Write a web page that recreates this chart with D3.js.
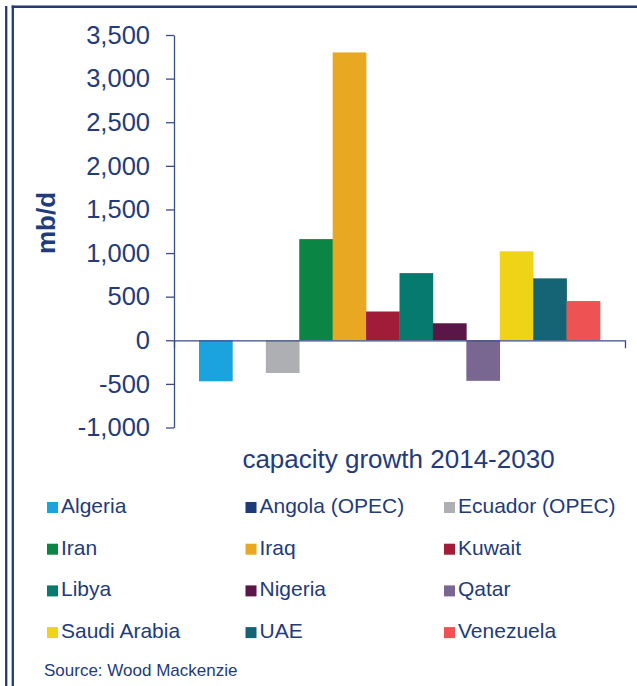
<!DOCTYPE html>
<html>
<head>
<meta charset="utf-8">
<script src="https://cdn.jsdelivr.net/npm/d3@7"></script>
<style>
  body { margin: 0; background: #fff; }
  text { font-family: "Liberation Sans", Arial, sans-serif; fill: #233b7a; }
  .axis path, .axis line { stroke: #3b4b86; stroke-width: 1.3; }
</style>
</head>
<body>
<div id="chart-area"></div>
<script>
const categories = ["capacity growth 2014-2030"];
const countries = ["Algeria", "Angola (OPEC)", "Ecuador (OPEC)", "Iran", "Iraq", "Kuwait",
  "Libya", "Nigeria", "Qatar", "Saudi Arabia", "UAE", "Venezuela"];
const growth = [-470, 0, -375, 1160, 3300, 330, 770, 195, -465, 1020, 710, 450];
const colors = ["#1ba3dd", "#1f3a78", "#aeafb2", "#0a8543", "#e8a822", "#a01c38",
  "#067a6e", "#5a1648", "#796791", "#efd316", "#146475", "#ef5252"];
const yTicks = [-1000, -500, 0, 500, 1000, 1500, 2000, 2500, 3000, 3500];

const W = 637, H = 686;
const MARGIN = { LEFT: 174, RIGHT: 12, TOP: 35, BOTTOM: 258.5 };

const svg = d3.select("#chart-area").append("svg")
  .attr("width", W)
  .attr("height", H);

// frame lines
const navy = "#23397a";
svg.append("line").attr("x1", 6.2).attr("x2", 6.2).attr("y1", 6).attr("y2", H)
  .attr("stroke", navy).attr("stroke-width", 2.3);
svg.append("line").attr("x1", 12.8).attr("x2", 12.8).attr("y1", 5.5).attr("y2", H)
  .attr("stroke", navy).attr("stroke-width", 2.3);
svg.append("line").attr("x1", 11.7).attr("x2", W).attr("y1", 6.7).attr("y2", 6.7)
  .attr("stroke", navy).attr("stroke-width", 2.5);

const x0 = d3.scaleBand()
  .domain(categories)
  .range([MARGIN.LEFT, W - MARGIN.RIGHT])
  .paddingOuter(0.0623)
  .paddingInner(0);

const x1 = d3.scaleBand()
  .domain(countries)
  .range([0, x0.bandwidth()])
  .padding(0);

const y = d3.scaleLinear()
  .domain([-1000, 3500])
  .range([H - MARGIN.BOTTOM, MARGIN.TOP]);

const color = d3.scaleOrdinal().domain(countries).range(colors);

// bars
const cat = svg.append("g")
  .attr("transform", `translate(${x0(categories[0])},0)`);

cat.selectAll("rect")
  .data(countries.map((c, i) => ({ country: c, value: growth[i] })))
  .enter().append("rect")
  .attr("x", d => x1(d.country))
  .attr("width", x1.bandwidth() + 0.3)
  .attr("y", d => y(Math.max(0, d.value)))
  .attr("height", d => Math.abs(y(d.value) - y(0)))
  .attr("fill", d => color(d.country));

// y axis (plain hyphen for negatives)
const fmt = d3.format(",");
const yAxisGroup = svg.append("g")
  .attr("class", "axis")
  .attr("transform", `translate(${MARGIN.LEFT},0)`)
  .call(d3.axisLeft(y)
    .tickValues(yTicks)
    .tickSize(8)
    .tickSizeOuter(0)
    .tickPadding(16)
    .tickFormat(d => fmt(d).replace("\u2212", "-")));
yAxisGroup.selectAll("text")
  .attr("font-size", "25.5px")
  .attr("fill", "#233b7a")
  .style("font-family", "'Liberation Sans', Arial, sans-serif");

// x axis at zero
const xAxisGroup = svg.append("g")
  .attr("class", "axis")
  .attr("transform", `translate(0,${y(0)})`)
  .call(d3.axisBottom(x0).tickSize(0).tickSizeOuter(8).tickFormat(""));
xAxisGroup.select("path").attr("fill", "none");

// category label
svg.append("text")
  .attr("x", x0(categories[0]) + x0.bandwidth() / 2 - 1)
  .attr("y", 468)
  .attr("text-anchor", "middle")
  .attr("font-size", "26px")
  .text(categories[0]);

// y label
svg.append("text")
  .attr("transform", "translate(55,223) rotate(-90)")
  .attr("text-anchor", "middle")
  .attr("font-size", "26px")
  .attr("font-weight", "bold")
  .text("mb/d");

// legend
const legend = svg.append("g");
countries.forEach((c, i) => {
  const col = i % 3, row = Math.floor(i / 3);
  const item = legend.append("g")
    .attr("transform", `translate(${47 + col * 198.5},${513 + row * 41.7})`);
  item.append("rect")
    .attr("x", 0)
    .attr("y", -11)
    .attr("width", 11)
    .attr("height", 11)
    .attr("fill", color(c));
  item.append("text")
    .attr("x", 14)
    .attr("y", 0)
    .attr("font-size", "21px")
    .text(c);
});

svg.append("text")
  .attr("x", 44)
  .attr("y", 676)
  .attr("font-size", "17px")
  .text("Source: Wood Mackenzie");
</script>
</body>
</html>
